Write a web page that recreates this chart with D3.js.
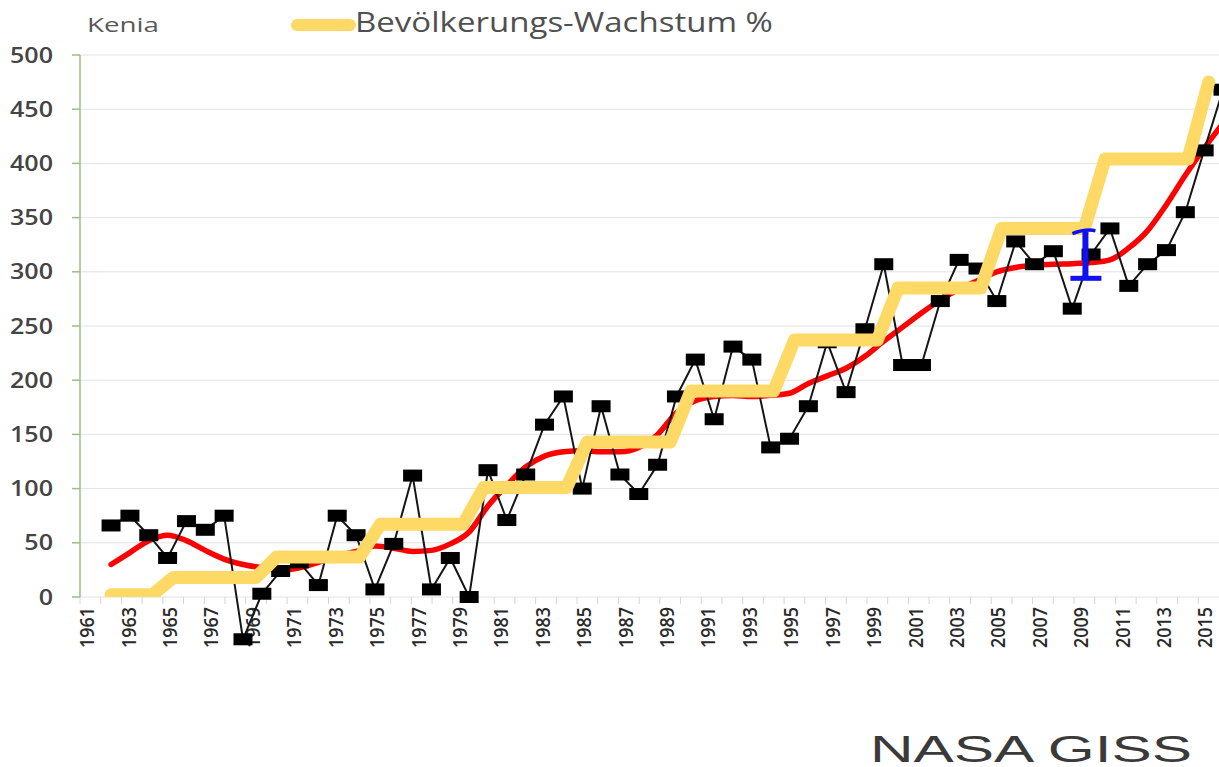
<!DOCTYPE html>
<html>
<head>
<meta charset="utf-8">
<script src="https://cdn.jsdelivr.net/npm/d3@7"></script>
<style>
    body { margin: 0; background: #fff; }
    text { font-family: "Open Sans", sans-serif; }
</style>
</head>
<body>
<svg id="chart" width="1219" height="767"></svg>
<script>
// categories of the population series
var popYears = d3.range(1961, 2016);
var oddYears = popYears.filter(function (d) { return d % 2 === 1; });
var yTicks = [0, 50, 100, 150, 200, 250, 300, 350, 400, 450, 500];

// Bevölkerungs-Wachstum %, one value per year (1961 empty)
var popGrowth = [null,
    2, 2, 2,
    18, 18, 18, 18, 18,
    37, 37, 37, 37, 37,
    67, 67, 67, 67, 67,
    101, 101, 101, 101, 101,
    143, 143, 143, 143, 143,
    190, 190, 190, 190, 190,
    237, 237, 237, 237, 237,
    285, 285, 285, 285, 285,
    340, 340, 340, 340, 340,
    404, 404, 404, 404, 404,
    475];

// black series (own point spacing) and its red smoothed trend
var tempValues = [66, 75, 57, 36, 70, 62, 75, -39, 3, 24,
    32, 11, 75, 57, 7, 49, 112, 7, 36, 0,
    117, 71, 113, 159, 185, 100, 176, 113, 95, 122,
    185, 219, 164, 231, 219, 138, 146, 176, 235, 189,
    247, 307, 214, 214, 273, 311, 303, 273, 328, 307,
    319, 266, 316, 340, 287, 307, 320, 355, 412, 468];

var tempTrend = [30, 41, 52, 57, 52, 43, 35, 30, 27, 25,
    27, 32, 38, 42, 47, 45, 42, 43, 49, 60,
    84, 103, 120, 130, 134, 135, 134, 134, 138, 150,
    170, 181, 185, 186, 185, 186, 188, 197, 204, 211,
    222, 236, 249, 262, 274, 284, 292, 300, 304, 306,
    307, 307.5, 308.5, 311, 322, 338, 362, 389, 414, 437];

// blue bar (index position on black series, low, high)
var errPos = 51.7;
var errRange = [294, 337];

var chartW = 1219, plotLeft = 80, plotTop = 55, plotBottom = 597;

var svg = d3.select("#chart");

var x = d3.scaleBand().domain(popYears).range([plotLeft, chartW]);
function cx(d) { return x(d) + x.bandwidth() / 2; }

var tempX = d3.scaleLinear()
    .domain([0, tempValues.length - 1])
    .range([cx(1962), chartW + 4]);

var y = d3.scaleLinear().domain([0, 500]).range([plotBottom, plotTop]);

// grid
svg.append("g").selectAll("line")
    .data(yTicks)
    .enter().append("line")
    .attr("x1", plotLeft).attr("x2", chartW)
    .attr("y1", function (d) { return y(d); })
    .attr("y2", function (d) { return y(d); })
    .attr("stroke", "#e2e2e2")
    .attr("stroke-width", 1);

// x ticks at category borders
svg.append("g").selectAll("line")
    .data(popYears)
    .enter().append("line")
    .attr("x1", function (d) { return x(d); })
    .attr("x2", function (d) { return x(d); })
    .attr("y1", plotBottom).attr("y2", plotBottom + 7)
    .attr("stroke", "#d6d6d6");

// y axis (green)
var yAxis = svg.append("g");
yAxis.append("line")
    .attr("x1", plotLeft).attr("x2", plotLeft)
    .attr("y1", y(500)).attr("y2", y(0))
    .attr("stroke", "#97bf84").attr("stroke-width", 1.5);
yAxis.selectAll(".tk")
    .data(yTicks)
    .enter().append("line")
    .attr("class", "tk")
    .attr("x1", plotLeft - 8).attr("x2", plotLeft)
    .attr("y1", function (d) { return y(d); })
    .attr("y2", function (d) { return y(d); })
    .attr("stroke", "#97bf84").attr("stroke-width", 1.5);

var yLabels = yAxis.selectAll("text")
    .data(yTicks)
    .enter().append("text")
    .attr("text-anchor", "end")
    .attr("dy", "0.36em")
    .style("font-size", "21px")
    .style("font-weight", "600")
    .style("fill", "#444")
    .text(function (d) { return d; });
var ySx = 43 / yLabels.filter(function (d) { return d === 500; }).node().getComputedTextLength();
yLabels.attr("transform", function (d) {
    return "translate(53," + y(d) + ") scale(" + ySx + ",1)";
});

// x labels, rotated
var xLabels = svg.append("g").selectAll("text")
    .data(oddYears)
    .enter().append("text")
    .attr("text-anchor", "end")
    .attr("dy", "0.36em")
    .style("font-size", "19px")
    .style("font-weight", "600")
    .style("fill", "#2a2a2a")
    .text(function (d) { return d; });
var xSx = 41 / xLabels.node().getComputedTextLength();
xLabels.attr("transform", function (d) {
    return "translate(" + (cx(d) - 3) + "," + (plotBottom + 10) + ") rotate(-90) scale(" + xSx + ",1)";
});

// red trend
var trendLine = d3.line()
    .x(function (d, i) { return tempX(i); })
    .y(function (d) { return y(d); })
    .curve(d3.curveMonotoneX);

svg.append("path")
    .attr("d", trendLine(tempTrend))
    .attr("fill", "none")
    .attr("stroke", "#ff0000")
    .attr("stroke-width", 5.5)
    .attr("stroke-linecap", "round");

// black series
var tempLine = d3.line()
    .x(function (d, i) { return tempX(i); })
    .y(function (d) { return y(d); });

svg.append("path")
    .attr("d", tempLine(tempValues))
    .attr("fill", "none")
    .attr("stroke", "#151515")
    .attr("stroke-width", 2);

svg.append("g").selectAll("rect")
    .data(tempValues)
    .enter().append("rect")
    .attr("x", function (d, i) { return tempX(i) - 9.5; })
    .attr("y", function (d) { return y(d) - 6; })
    .attr("width", 19)
    .attr("height", 12)
    .attr("fill", "#000");

// yellow population growth line, clipped at the axis
svg.append("clipPath").attr("id", "plotClip")
    .append("rect")
    .attr("x", 0).attr("y", 0)
    .attr("width", chartW).attr("height", plotBottom);

var popLine = d3.line()
    .defined(function (d) { return d !== null; })
    .x(function (d, i) { return cx(popYears[i]); })
    .y(function (d) { return y(d); });

svg.append("path")
    .attr("clip-path", "url(#plotClip)")
    .attr("d", popLine(popGrowth))
    .attr("fill", "none")
    .attr("stroke", "#ffd966")
    .attr("stroke-width", 13)
    .attr("stroke-linejoin", "round")
    .attr("stroke-linecap", "round");

// blue bar
var ex = tempX(errPos);
var eb = svg.append("g").attr("stroke", "#1010f0").attr("fill", "none");
eb.append("line")
    .attr("x1", ex).attr("x2", ex)
    .attr("y1", y(errRange[0])).attr("y2", y(errRange[1]))
    .attr("stroke-width", 6);
eb.append("path")
    .attr("d", "M" + (ex - 13) + "," + (y(errRange[1]) + 2) +
        " Q" + ex + "," + (y(errRange[1]) - 3) + " " + (ex + 10) + "," + (y(errRange[1]) - 1))
    .attr("stroke-width", 3.5);
eb.append("line")
    .attr("x1", ex - 15).attr("x2", ex + 16)
    .attr("y1", y(errRange[0])).attr("y2", y(errRange[0]))
    .attr("stroke-width", 5);

// titles
var kenia = svg.append("text")
    .style("font-size", "19.5px")
    .style("fill", "#595959")
    .text("Kenia");
kenia.attr("transform", "translate(87,32) scale(" + (72 / kenia.node().getComputedTextLength()) + ",1)");

svg.append("line")
    .attr("x1", 297).attr("x2", 350)
    .attr("y1", 25).attr("y2", 25)
    .attr("stroke", "#ffd966")
    .attr("stroke-width", 12)
    .attr("stroke-linecap", "round");

var legendText = svg.append("text")
    .style("font-size", "27px")
    .style("fill", "#505050")
    .text("Bevölkerungs-Wachstum %");
legendText.attr("transform", "translate(355,32) scale(" + (418 / legendText.node().getComputedTextLength()) + ",1)");

var source = svg.append("text")
    .style("font-family", "'Liberation Sans', Arial, sans-serif")
    .style("font-size", "37px")
    .style("fill", "#3a3a3a")
    .text("NASA GISS");
source.attr("transform", "translate(870,762) scale(" + (322 / source.node().getComputedTextLength()) + ",1)");
</script>
</body>
</html>
